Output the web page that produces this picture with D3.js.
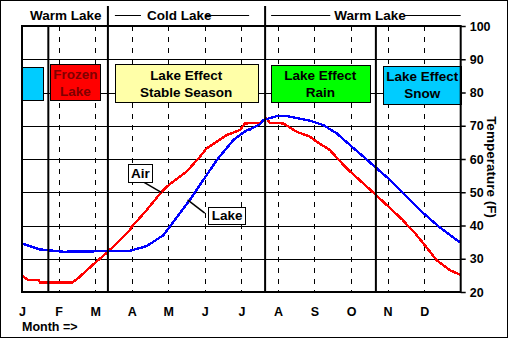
<!DOCTYPE html>
<html>
<head>
  <meta charset="utf-8">
  <script src="https://d3js.org/d3.v7.min.js"></script>
  <style>
    body { margin:0; background:#fff; }
    text { font-family: "Liberation Sans", Arial, sans-serif; font-weight: bold; fill: #000; }
    .y.axis text { font-size: 12.5px; }
    .x.axis text { font-size: 12.5px; }
  </style>
</head>
<body>
  <script>
    // months on x (0 = Jan 1, 12 = Dec 31), temperature in F on y
    var monthLabels = ["J","F","M","A","M","J","J","A","S","O","N","D"];
    var tempTicks = [20, 30, 40, 50, 60, 70, 80, 90, 100];

    var airMonths = [0, 0.15, 0.45, 0.5, 1.37, 1.53, 2.0, 2.35, 2.95, 3.0, 3.4, 3.77, 3.96, 4.5, 4.87, 5.05, 5.6, 5.96, 6.1, 6.51, 6.68, 6.78, 7.15, 7.51, 7.88, 8.06, 8.42, 8.88, 9.33, 9.68, 10.07, 10.41, 10.61, 10.72, 10.98, 11.16, 11.34, 11.7, 12];
    var airTemps  = [25, 23.7, 23.6, 22.8, 22.8, 24.1, 28.8, 32.1, 38.6, 39.6, 44.5, 49.5, 51.7, 56.2, 60.7, 63.2, 67.2, 68.7, 70.7, 70.9, 72.3, 70.9, 70.7, 68.2, 66.7, 65.2, 62.7, 57.2, 52.7, 49.2, 45.2, 41.7, 39.2, 38.1, 34.6, 32.1, 29.6, 26.6, 25.1];

    var lakeMonths = [0, 0.49, 1.13, 2.95, 3.41, 3.87, 4.14, 4.56, 4.96, 5.33, 5.78, 6.15, 6.24, 6.51, 6.6, 6.97, 7.24, 7.88, 8.24, 8.61, 8.97, 9.34, 9.7, 10.07, 10.43, 10.98, 11.43, 11.71, 12];
    var lakeTemps  = [34.6, 32.8, 32.1, 32.4, 33.8, 37.1, 41.1, 47.2, 53.7, 59.7, 65.7, 68.7, 68.9, 70.5, 71.7, 72.9, 72.9, 71.5, 70.2, 67.7, 64.2, 60.7, 57.2, 53.7, 49.7, 43.7, 39.4, 37.1, 34.8];

    // season boundaries (months) and the header labels above them
    var seasonBounds = [0.72, 2.35, 6.65, 9.68];
    var headers = [
      {text: "Warm Lake", mid: 1.2, from: null, to: null},
      {text: "Cold Lake", mid: 4.3, from: 2.35, to: 6.65},
      {text: "Warm Lake", mid: 9.52, from: 6.65, to: 12}
    ];

    // lake effect boxes
    var boxes = [
      {lines: [], from: 0, to: 0.58, hi: 87.8, lo: 78.0, fill: "#00ccff", color: "#000"},
      {lines: ["Frozen", "Lake"], from: 0.77, to: 2.15, hi: 88.5, lo: 77.7, fill: "#ff0000", color: "#800000"},
      {lines: ["Lake Effect", "Stable Season"], from: 2.54, to: 6.44, hi: 88.5, lo: 77.1, fill: "#ffffa8", color: "#000"},
      {lines: ["Lake Effect", "Rain"], from: 6.8, to: 9.52, hi: 88.2, lo: 77.1, fill: "#00ff00", color: "#000"},
      {lines: ["Lake Effect", "Snow"], from: 9.88, to: 12.02, hi: 88.0, lo: 76.5, fill: "#00ccff", color: "#000"}
    ];

    var callouts = [
      {text: "Air", x0: 2.91, x1: 3.565, hi: 58.4, lo: 53.0, from: [3.27, 53.4], to: [3.82, 49.9]},
      {text: "Lake", x0: 5.1, x1: 6.12, hi: 45.7, lo: 40.7, from: [4.53, 47.7], to: [5.0, 43.7]}
    ];

    var W = 509, H = 339;
    var margin = {top: 26, right: 48.3, bottom: 47, left: 22};

    var svg = d3.select("body").append("svg")
        .attr("width", W)
        .attr("height", H);

    svg.append("rect")
        .attr("x", 0.5).attr("y", 0.5)
        .attr("width", W - 2).attr("height", H - 2)
        .attr("fill", "#fff").attr("stroke", "#000");

    var x = d3.scaleLinear().domain([0, 12]).range([margin.left, W - margin.right]);
    var y = d3.scaleLinear().domain([20, 100]).range([H - margin.bottom, margin.top]);

    // horizontal grid
    svg.append("g").selectAll("line")
        .data(tempTicks.filter(d => d > 20 && d < 100))
        .enter().append("line")
        .attr("x1", x(0)).attr("x2", x(12))
        .attr("y1", d => Math.round(y(d)) + 0.5).attr("y2", d => Math.round(y(d)) + 0.5)
        .attr("stroke", "#000").attr("stroke-width", 1);

    // dashed month lines
    svg.append("g").selectAll("line")
        .data(d3.range(1, 12))
        .enter().append("line")
        .attr("x1", d => Math.round(x(d)) + 0.5).attr("x2", d => Math.round(x(d)) + 0.5)
        .attr("y1", y(100)).attr("y2", y(20))
        .attr("stroke", "#000").attr("stroke-dasharray", "5,6");

    var line = d3.line().x(d => x(d[0])).y(d => y(d[1]));

    svg.append("path")
        .datum(airMonths.map((m, i) => [m, airTemps[i]]))
        .attr("d", line)
        .attr("fill", "none").attr("stroke", "#ff0000").attr("stroke-width", 2.4)
        .attr("shape-rendering", "crispEdges");

    svg.append("path")
        .datum(lakeMonths.map((m, i) => [m, lakeTemps[i]]))
        .attr("d", line)
        .attr("fill", "none").attr("stroke", "#0000ff").attr("stroke-width", 2.4)
        .attr("shape-rendering", "crispEdges");

    // season boxes
    var bx = svg.append("g").selectAll("g")
        .data(boxes)
        .enter().append("g");
    bx.append("rect")
        .attr("x", d => Math.round(x(d.from)) + 0.5)
        .attr("y", d => Math.round(y(d.hi)) + 0.5)
        .attr("width", d => Math.round(x(d.to) - x(d.from)))
        .attr("height", d => Math.round(y(d.lo) - y(d.hi)))
        .attr("fill", d => d.fill).attr("stroke", "#000");
    bx.each(function(d) {
      var cx = (x(d.from) + x(d.to)) / 2, cy = (y(d.hi) + y(d.lo)) / 2;
      d3.select(this).selectAll("text")
        .data(d.lines)
        .enter().append("text")
        .attr("x", cx)
        .attr("y", (t, i) => cy + (i === 0 ? -8.5 : 8.5))
        .attr("dy", "0.36em")
        .attr("text-anchor", "middle")
        .style("font-size", "13.5px")
        .style("fill", d.color)
        .text(t => t);
    });

    // season boundaries
    svg.append("g").selectAll("line")
        .data(seasonBounds)
        .enter().append("line")
        .attr("x1", d => x(d)).attr("x2", d => x(d))
        .attr("y1", (d, i) => (i === 1 || i === 2) ? 6 : y(100))
        .attr("y2", y(20))
        .attr("stroke", "#000").attr("stroke-width", 2);

    // headers
    headers.forEach(function(h) {
      var t = svg.append("text")
          .attr("x", x(h.mid)).attr("y", 15).attr("dy", "0.36em")
          .attr("text-anchor", "middle")
          .style("font-size", "13.5px")
          .text(h.text);
      if (h.from === null) return;
      var len = t.node().getComputedTextLength();
      var left = x(h.mid) - len / 2, right = x(h.mid) + len / 2;
      var segs = h.to < 12
        ? [[x(h.from) + 7, left - 6], [right - 6, x(h.to) - 16]]
        : [[x(h.from) + 6, left - 4], [right - 1, x(h.to)]];
      svg.append("g").selectAll("line")
        .data(segs).enter().append("line")
        .attr("x1", s => s[0]).attr("x2", s => s[1])
        .attr("y1", 15.5).attr("y2", 15.5)
        .attr("stroke", "#000");
    });

    // callouts
    callouts.forEach(function(c) {
      svg.append("line")
        .attr("x1", x(c.from[0])).attr("y1", y(c.from[1]))
        .attr("x2", x(c.to[0])).attr("y2", y(c.to[1]))
        .attr("stroke", "#000").attr("stroke-width", 1.5);
      svg.append("rect")
        .attr("x", Math.round(x(c.x0)) + 0.5).attr("y", Math.round(y(c.hi)) + 0.5)
        .attr("width", Math.round(x(c.x1) - x(c.x0)))
        .attr("height", Math.round(y(c.lo) - y(c.hi)))
        .attr("fill", "#fff").attr("stroke", "#000");
      svg.append("text")
        .attr("x", (x(c.x0) + x(c.x1)) / 2)
        .attr("y", (y(c.hi) + y(c.lo)) / 2)
        .attr("dy", "0.36em")
        .attr("text-anchor", "middle")
        .style("font-size", "13.5px")
        .text(c.text);
    });

    // plot frame
    svg.append("rect")
        .attr("x", x(0)).attr("y", y(100))
        .attr("width", x(12) - x(0)).attr("height", y(20) - y(100))
        .attr("fill", "none").attr("stroke", "#000").attr("stroke-width", 2);

    // axes
    var yAxis = d3.axisRight(y).tickValues(tempTicks).tickSize(5).tickPadding(4);
    svg.append("g")
        .attr("class", "y axis")
        .attr("transform", "translate(" + x(12) + ",0)")
        .call(yAxis)
        .call(g => g.select(".domain").remove())
        .call(g => g.selectAll(".tick line").attr("stroke-width", 1.5));

    var xAxis = d3.axisBottom(x).tickValues(d3.range(0, 12)).tickFormat(d => monthLabels[d]).tickSize(0).tickPadding(15);
    svg.append("g")
        .attr("class", "x axis")
        .attr("transform", "translate(0," + y(20) + ")")
        .call(xAxis)
        .call(g => g.select(".domain").remove());

    svg.append("text")
        .attr("x", x(0)).attr("y", 331)
        .style("font-size", "12.5px")
        .text("Month =>");

    svg.append("text")
        .attr("transform", "translate(492,167) rotate(90)")
        .attr("text-anchor", "middle")
        .attr("dy", "0.36em")
        .style("font-size", "13.5px")
        .text("Temperature (F)");
  </script>
</body>
</html>
